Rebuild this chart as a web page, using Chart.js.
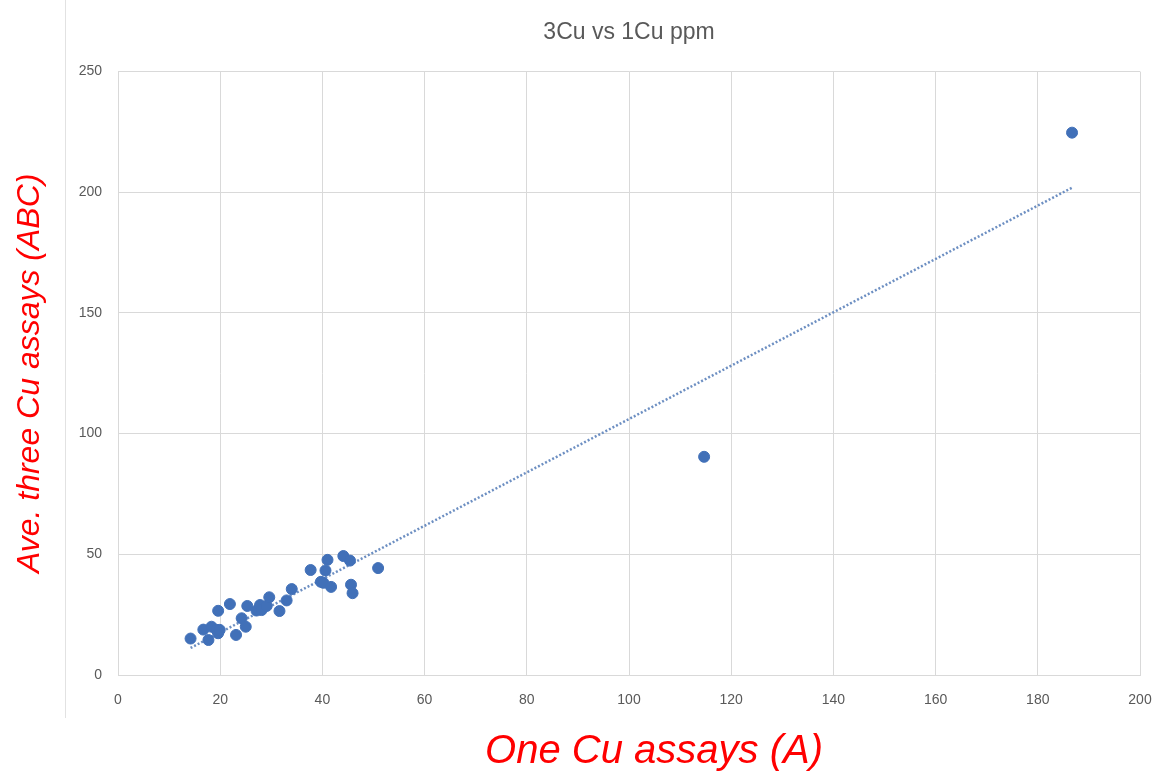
<!DOCTYPE html>
<html>
<head>
<meta charset="utf-8">
<script src="https://cdn.jsdelivr.net/npm/chart.js@4/dist/chart.umd.min.js"></script>
<style>
    html, body { margin: 0; padding: 0; background: #fff; }
    #wrap { position: relative; width: 1162px; height: 777px; }
    #edge { position: absolute; left: 65px; top: 0; width: 1px; height: 718px; background: #e2e2e2; }
</style>
</head>
<body>
<div id="wrap">
    <div id="edge"></div>
    <canvas id="chart" width="1162" height="777"></canvas>
</div>
<script>
// one Cu assay (A) vs average of three Cu assays (ABC), ppm
const oneCu = [14.2, 16.7, 17.7, 18.3, 19.3, 19.6, 19.9, 19.6, 21.9, 23.1, 24.2, 25.0, 25.3, 27.1, 27.8, 28.1, 29.1, 29.6, 31.6, 33.0, 34.0, 37.7, 39.7, 40.2, 41.0, 40.6, 41.7, 44.1, 45.4, 45.6, 45.9, 50.9, 114.7, 186.7];
const threeCu = [15.1, 18.8, 14.5, 20.0, 18.7, 17.3, 18.7, 26.6, 29.4, 16.6, 23.5, 20.0, 28.6, 26.7, 29.0, 26.9, 28.6, 32.2, 26.5, 30.9, 35.6, 43.5, 38.6, 38.2, 47.7, 43.3, 36.5, 49.3, 47.4, 37.4, 33.9, 44.3, 90.4, 224.7];

// ends of the dotted trend line
const trendX = [14.2, 186.7];
const trendY = [11.2, 201.9];

const xTicks = [0, 20, 40, 60, 80, 100, 120, 140, 160, 180, 200];
const yTicks = [0, 50, 100, 150, 200, 250];

const xTitle = 'One Cu assays (A)';

// x axis title sits a bit right of the plot centre in the original, so draw it by hand
const xTitlePlugin = {
    id: 'xTitle',
    afterDraw(chart) {
        const c = chart.ctx;
        c.save();
        c.fillStyle = '#ff0000';
        c.font = 'italic 40px "Liberation Sans"';
        c.textAlign = 'center';
        c.textBaseline = 'middle';
        c.fillText(xTitle, 654, 752);
        c.restore();
    }
};

const ctx = document.getElementById('chart').getContext('2d');

new Chart(ctx, {
    type: 'scatter',
    data: {
        datasets: [{
            label: 'Cu',
            data: oneCu.map((x, i) => ({x: x, y: threeCu[i]})),
            backgroundColor: '#4170b8',
            borderColor: '#4170b8',
            pointRadius: 5.5,
            order: 1
        }, {
            label: 'Trend',
            data: trendX.map((x, i) => ({x: x, y: trendY[i]})),
            showLine: true,
            borderColor: '#6d8fc2',
            borderWidth: 2.5,
            borderDash: [2, 2],
            pointRadius: 0,
            order: 2
        }]
    },
    options: {
        responsive: false,
        animation: false,
        layout: {
            padding: {top: 0, right: 22, bottom: 0, left: 0}
        },
        plugins: {
            legend: {display: false},
            tooltip: {enabled: false},
            title: {
                display: true,
                fullSize: false,
                text: '3Cu vs 1Cu ppm',
                color: '#595959',
                font: {family: 'Liberation Sans', size: 23, weight: 'normal'},
                padding: {top: 19, bottom: 25}
            }
        },
        scales: {
            x: {
                type: 'linear',
                min: 0,
                max: 200,
                afterBuildTicks: (axis) => { axis.ticks = xTicks.map(v => ({value: v})); },
                afterFit: (axis) => {
                    axis.height = 102;
                    // let the layout padding alone decide the plot's right edge
                    axis.paddingLeft = 0;
                    axis.paddingRight = 0;
                },
                grid: {color: '#d9d9d9', drawTicks: false},
                border: {color: '#d9d9d9'},
                ticks: {
                    color: '#595959',
                    padding: 17,
                    font: {family: 'Liberation Sans', size: 14}
                }
            },
            y: {
                type: 'linear',
                min: 0,
                max: 250,
                afterBuildTicks: (axis) => { axis.ticks = yTicks.map(v => ({value: v})); },
                afterFit: (axis) => { axis.width = 118; },
                grid: {color: '#d9d9d9', drawTicks: false},
                border: {color: '#d9d9d9'},
                ticks: {
                    color: '#595959',
                    padding: 16,
                    font: {family: 'Liberation Sans', size: 14}
                },
                title: {
                    display: true,
                    text: 'Ave. three Cu assays (ABC)',
                    color: '#ff0000',
                    font: {family: 'Liberation Sans', size: 32, style: 'italic'},
                    padding: {top: 11, bottom: 0}
                }
            }
        }
    },
    plugins: [xTitlePlugin]
});
</script>
</body>
</html>
